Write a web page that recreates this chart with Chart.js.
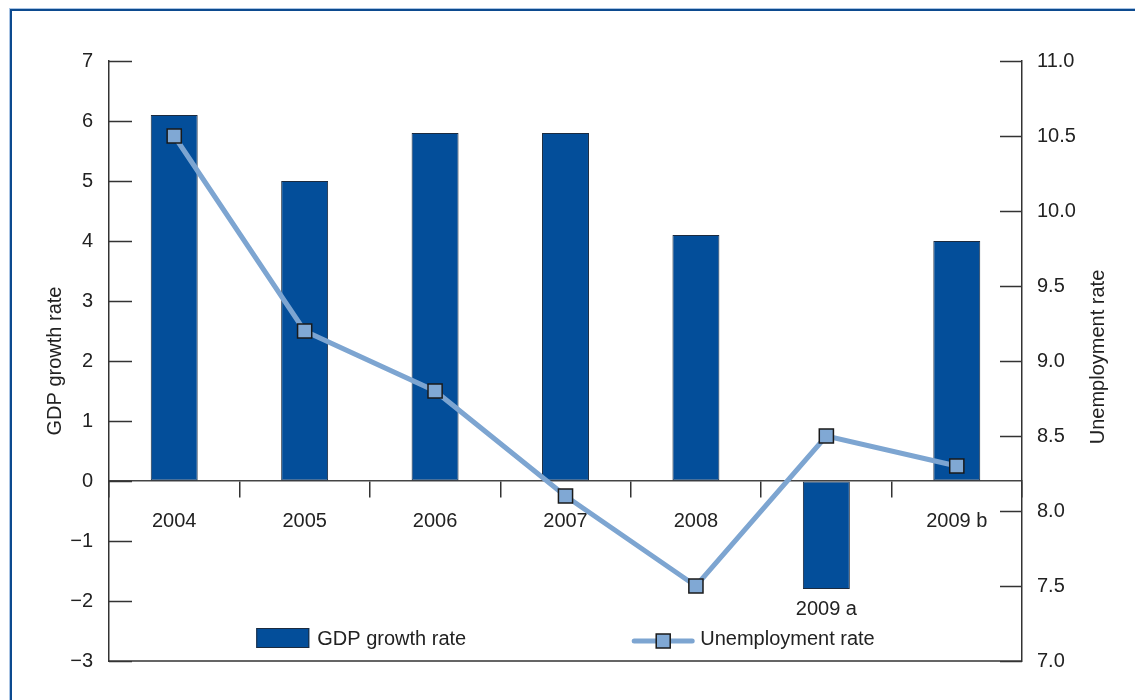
<!DOCTYPE html>
<html lang="en">
<head>
<meta charset="UTF-8">
<title>GDP growth and unemployment</title>
<script src="https://cdn.jsdelivr.net/npm/chart.js@4.4.1/dist/chart.umd.min.js"></script>
<style>
  html, body { margin: 0; padding: 0; background: #fff; }
  #wrap { position: relative; width: 1135px; height: 700px; }
</style>
</head>
<body>
<div id="wrap"><canvas id="myChart"></canvas></div>
<script>
  const years = ["2004", "2005", "2006", "2007", "2008", "2009 a", "2009 b"];
  const gdpGrowth = [6.1, 5.0, 5.8, 5.8, 4.1, -1.8, 4.0];
  const unemployment = [10.5, 9.2, 8.8, 8.1, 7.5, 8.5, 8.3];
  const leftTicks = [-3, -2, -1, 0, 1, 2, 3, 4, 5, 6, 7];
  const rightTicks = [7.0, 7.5, 8.0, 8.5, 9.0, 9.5, 10.0, 10.5, 11.0];
  const rightTitle = "Unemployment rate";

  const fontFamily = '"Liberation Sans", Arial, sans-serif';
  const textColor = "#222";
  const barColor = "#034e9a";
  const lineColor = "#7da5d1";

  Chart.defaults.font.family = fontFamily;
  Chart.defaults.font.size = 20;
  Chart.defaults.color = textColor;

  // frame, category labels, inner tick marks, right title and the legend
  const extras = {
    id: "extras",
    beforeDraw(chart) {
      const ctx = chart.ctx;
      ctx.save();
      ctx.fillStyle = "#a9c4e4";
      ctx.fillRect(9, 8, chart.width, 1);
      ctx.fillRect(9, 8, 1, chart.height);
      ctx.fillStyle = "#0c4a8f";
      ctx.fillRect(10, 9, chart.width, 2);
      ctx.fillRect(10, 9, 2, chart.height);
      ctx.restore();
    },
    beforeDatasetsDraw(chart) {
      const ctx = chart.ctx;
      const x = chart.scales.x, y = chart.scales.y;
      const zero = y.getPixelForValue(0);
      ctx.save();
      ctx.font = "20px " + fontFamily;
      ctx.fillStyle = textColor;
      ctx.textAlign = "center";
      ctx.textBaseline = "middle";
      years.forEach((lab, i) => {
        const px = x.getPixelForValue(i);
        const barEnd = y.getPixelForValue(Math.min(gdpGrowth[i], 0));
        const py = Math.max(zero + 40, barEnd + 20);
        ctx.fillText(lab, px, py);
      });
      ctx.restore();
    },
    afterDraw(chart) {
      const ctx = chart.ctx;
      const area = chart.chartArea;
      const y = chart.scales.y, y1 = chart.scales.y1;
      ctx.save();
      ctx.strokeStyle = "#333";
      ctx.lineWidth = 1.5;
      ctx.beginPath();
      y.ticks.forEach(t => {
        const py = Math.round(y.getPixelForValue(t.value)) + 0.5;
        ctx.moveTo(area.left, py);
        ctx.lineTo(area.left + 23, py);
      });
      y1.ticks.forEach(t => {
        const py = Math.round(y1.getPixelForValue(t.value)) + 0.5;
        ctx.moveTo(area.right - 22, py);
        ctx.lineTo(area.right, py);
      });
      ctx.moveTo(area.left, area.bottom);
      ctx.lineTo(area.right, area.bottom);
      ctx.stroke();

      // right axis title, reading bottom to top like the left one
      ctx.font = "20px " + fontFamily;
      ctx.fillStyle = textColor;
      ctx.save();
      ctx.translate(y1.right - 37, (area.top + area.bottom) / 2 - 4);
      ctx.rotate(-Math.PI / 2);
      ctx.textAlign = "center";
      ctx.textBaseline = "middle";
      ctx.fillText(rightTitle, 0, 0);
      ctx.restore();

      // legend
      const ds = chart.data.datasets;
      const w1 = ctx.measureText(ds[0].label).width;
      const w2 = ctx.measureText(ds[1].label).width;
      const boxW = 53, boxH = 20, lineW = 58, gap = 8, between = 168;
      const total = boxW + gap + w1 + between + lineW + gap + w2;
      let sx = (area.left + area.right) / 2 - total / 2;
      const cy = area.bottom - 23;
      ctx.fillStyle = barColor;
      ctx.fillRect(sx, cy - boxH / 2, boxW, boxH);
      ctx.strokeStyle = "#1c2b3f";
      ctx.lineWidth = 1;
      ctx.strokeRect(sx + 0.5, cy - boxH / 2 + 0.5, boxW - 1, boxH - 1);
      ctx.fillStyle = textColor;
      ctx.textAlign = "left";
      ctx.textBaseline = "middle";
      ctx.fillText(ds[0].label, sx + boxW + gap, cy + 1);
      sx += boxW + gap + w1 + between;
      ctx.strokeStyle = lineColor;
      ctx.lineWidth = 5;
      ctx.lineCap = "round";
      ctx.beginPath();
      ctx.moveTo(sx, cy + 3);
      ctx.lineTo(sx + lineW, cy + 3);
      ctx.stroke();
      ctx.fillStyle = "#80a8d4";
      ctx.strokeStyle = "#1a1a1a";
      ctx.lineWidth = 1.5;
      ctx.fillRect(sx + lineW / 2 - 7, cy + 3 - 7, 14, 14);
      ctx.strokeRect(sx + lineW / 2 - 7, cy + 3 - 7, 14, 14);
      ctx.fillStyle = textColor;
      ctx.fillText(ds[1].label, sx + lineW + gap, cy + 1);
      ctx.restore();
    }
  };

  const ctx = document.getElementById("myChart").getContext("2d");
  const chart = new Chart(ctx, {
    data: {
      labels: years,
      datasets: [
        {
          type: "bar",
          label: "GDP growth rate",
          data: gdpGrowth,
          yAxisID: "y",
          backgroundColor: barColor,
          borderColor: "#1c2b3f",
          borderWidth: 1,
          borderSkipped: false,
          categoryPercentage: 1,
          barPercentage: 0.36,
          order: 1
        },
        {
          type: "line",
          label: "Unemployment rate",
          data: unemployment,
          yAxisID: "y1",
          borderColor: lineColor,
          borderWidth: 5,
          tension: 0,
          pointStyle: "rect",
          pointRadius: 10,
          pointBackgroundColor: "#80a8d4",
          pointBorderColor: "#1a1a1a",
          pointBorderWidth: 1.5,
          order: 0
        }
      ]
    },
    options: {
      responsive: true,
      maintainAspectRatio: false,
      animation: false,
      layout: { padding: { left: 9, right: 0, top: 61, bottom: 39 } },
      plugins: {
        legend: { display: false },
        tooltip: { enabled: false }
      },
      scales: {
        x: {
          type: "category",
          position: { y: 0 },
          offset: true,
          grid: { offset: true, drawOnChartArea: false, drawTicks: true, tickLength: 16, color: "#333", lineWidth: 1.5 },
          border: { color: "#444", width: 1.5 },
          ticks: { display: false }
        },
        y: {
          position: "left",
          min: -3,
          max: 7,
          afterBuildTicks: s => { s.ticks = leftTicks.map(v => ({ value: v })); },
          afterFit: s => { s.width = 100; },
          grid: { drawOnChartArea: false, drawTicks: false },
          border: { color: "#333", width: 1.5 },
          ticks: { padding: 16, color: textColor, callback: v => String(v).replace("-", "\u2212") },
          title: { display: true, text: "GDP growth rate", color: textColor, padding: { top: 34, bottom: 0 } }
        },
        y1: {
          position: "right",
          min: 7,
          max: 11,
          afterBuildTicks: s => { s.ticks = rightTicks.map(v => ({ value: v })); },
          afterFit: s => { s.width = 113; },
          grid: { drawOnChartArea: false, drawTicks: false },
          border: { color: "#333", width: 1.5 },
          ticks: { padding: 15, color: textColor, callback: v => Number(v).toFixed(1) },
          title: { display: false }
        }
      }
    },
    plugins: [extras]
  });
</script>
</body>
</html>
